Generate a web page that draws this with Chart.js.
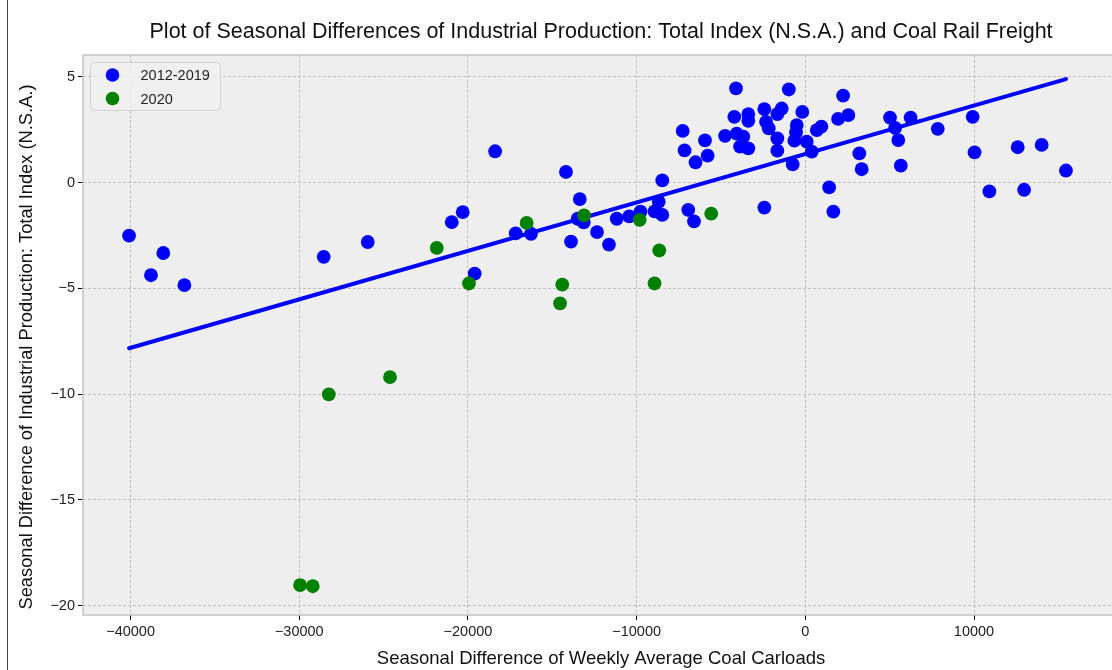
<!DOCTYPE html>
<html>
<head>
<meta charset="utf-8">
<script src="https://cdn.jsdelivr.net/npm/chart.js@4"></script>
<style>
    html, body { margin: 0; padding: 0; background: #fff; overflow: hidden; }
    #wrap { width: 1112px; height: 670px; overflow: hidden; }
</style>
</head>
<body>
<!-- the original axes run a little past the right edge of the picture, so the canvas is wider than the window -->
<div id="wrap"><canvas id="coalChart" width="1126" height="670"></canvas></div>
<script>
// seasonal difference of weekly average coal carloads (x) vs industrial production (y)
const blueX = [-40090, -38790, -38060, -36810, -28550, -25940, -20960, -20310, -19600, -18390,
    -17170, -16260, -14190, -13890, -13370, -13490, -13140, -12350, -11640, -11180,
    -10440, -9770, -8940, -8480, -8690, -8480, -6940, -6600, -7160, -6510,
    -5790, -5950, -7270, -4110, -980, -4210, -3380, -3380, -2430, -2330,
    -2170, -1400, -1660, -180, -4760, -4070, -3680, -3870, -3380, -1660,
    -1660, -510, -550, -650, 80, 380, -750, 680, 950, 2240,
    1940, 2550, 5020, 6240, 5320, 5510, 7850, 3200, 3340, 5660,
    9920, 10030, 12590, 14010, 15450, 10910, 12970, 1410, 1660, -2430];
const blueY = [-2.51, -4.38, -3.33, -4.85, -3.51, -2.81, -1.87, -1.40, -4.30, 1.48,
    -2.40, -2.42, 0.50, -2.79, -0.78, -1.71, -1.88, -2.34, -2.93, -1.71,
    -1.60, -1.37, -1.36, -1.53, -0.91, 0.10, -1.29, -1.83, 1.52, 0.96,
    1.27, 1.99, 2.44, 4.45, 4.40, 3.11, 3.24, 2.92, 3.47, 2.87,
    2.56, 3.50, 3.24, 3.34, 2.21, 2.31, 2.17, 1.70, 1.62, 2.09,
    1.51, 2.72, 2.37, 1.98, 1.93, 1.46, 0.86, 2.48, 2.64, 4.11,
    3.01, 3.19, 3.07, 3.07, 2.58, 2.01, 2.54, 1.38, 0.63, 0.80,
    3.11, 1.43, 1.67, 1.78, 0.57, -0.42, -0.34, -0.23, -1.37, -1.18];

// 2020
const greenX = [-29950, -29200, -28250, -24620, -21850, -19940, -16520, -14410, -14540, -13120, -9820, -8660, -8940, -5580];
const greenY = [-19.03, -19.08, -10.01, -9.20, -3.09, -4.77, -1.91, -4.82, -5.71, -1.55, -1.76, -3.21, -4.77, -1.47];

// fitted line end points
const fitX = [-40090, 15450];
const fitY = [-7.83, 4.89];

const xTicks = [-40000, -30000, -20000, -10000, 0, 10000];
const yTicks = [-20, -15, -10, -5, 0, 5];

const FONT = "'Liberation Sans', Arial, Helvetica, sans-serif";
const Y_TITLE = 'Seasonal Difference of Industrial Production: Total Index (N.S.A.)';
const minus = v => String(v).replace('-', '\u2212');
const toPoints = (xs, ys) => xs.map((x, i) => ({ x: x, y: ys[i] }));

// gray plot background + frame + y label
const plotFrame = {
    id: 'plotFrame',
    beforeDraw(chart) {
        const { ctx, chartArea: a } = chart;
        ctx.save();
        ctx.fillStyle = '#eeeeee';
        ctx.fillRect(a.left, a.top, a.right - a.left, a.bottom - a.top);
        ctx.restore();
    },
    afterDraw(chart) {
        const { ctx, chartArea: a } = chart;
        ctx.save();
        ctx.strokeStyle = '#c4c4c4';
        ctx.lineWidth = 1.5;
        ctx.strokeRect(a.left, a.top, a.right - a.left, a.bottom - a.top);
        // outer figure edge on the left
        ctx.fillStyle = '#444';
        ctx.fillRect(7, 0, 1, chart.height);
        // y axis label
        ctx.translate(27, 347);
        ctx.rotate(-Math.PI / 2);
        ctx.font = '18.3px ' + FONT;
        ctx.fillStyle = '#111';
        ctx.textAlign = 'center';
        ctx.textBaseline = 'middle';
        ctx.fillText(Y_TITLE, 0, 0);
        ctx.restore();
    }
};

// legend drawn inside upper left of the plot
const insideLegend = {
    id: 'insideLegend',
    afterDraw(chart) {
        const { ctx, chartArea: a } = chart;
        const sets = chart.data.datasets.filter(d => d.inLegend);
        const x0 = a.left + 7.5, y0 = a.top + 7.5, w = 130, h = 48;
        ctx.save();
        ctx.beginPath();
        ctx.roundRect(x0, y0, w, h, 4);
        ctx.fillStyle = 'rgba(240,240,240,0.85)';
        ctx.fill();
        ctx.strokeStyle = '#d2d2d2';
        ctx.lineWidth = 1;
        ctx.stroke();
        ctx.font = '14.5px ' + FONT;
        ctx.textBaseline = 'middle';
        sets.forEach((d, i) => {
            const cy = y0 + 12.5 + i * 23.5;
            ctx.beginPath();
            ctx.arc(x0 + 22, cy, 6.8, 0, Math.PI * 2);
            ctx.fillStyle = d.backgroundColor;
            ctx.fill();
            ctx.fillStyle = '#222';
            ctx.fillText(d.label, x0 + 50, cy + 1);
        });
        ctx.restore();
    }
};

const ctx = document.getElementById('coalChart').getContext('2d');
new Chart(ctx, {
    type: 'scatter',
    data: {
        datasets: [
            {
                label: '2012-2019',
                inLegend: true,
                data: toPoints(blueX, blueY),
                backgroundColor: '#0000ff',
                borderColor: '#0000ff',
                pointRadius: 6.9,
                pointBorderWidth: 0,
                order: 3
            },
            {
                label: 'fit',
                data: toPoints(fitX, fitY),
                showLine: true,
                borderColor: '#0000ff',
                backgroundColor: '#0000ff',
                borderWidth: 4,
                borderCapStyle: 'round',
                pointRadius: 0,
                order: 2
            },
            {
                label: '2020',
                inLegend: true,
                data: toPoints(greenX, greenY),
                backgroundColor: '#008000',
                borderColor: '#008000',
                pointRadius: 6.9,
                pointBorderWidth: 0,
                order: 1
            }
        ]
    },
    options: {
        responsive: false,
        animation: false,
        layout: { padding: 0 },
        plugins: {
            legend: { display: false },
            tooltip: { enabled: false },
            title: {
                display: true,
                fullSize: false,
                text: 'Plot of Seasonal Differences of Industrial Production: Total Index (N.S.A.) and Coal Rail Freight',
                color: '#111',
                font: { family: FONT, size: 21.5, weight: 'normal' },
                padding: { top: 19, bottom: 10.2 }
            }
        },
        scales: {
            x: {
                type: 'linear',
                min: -42820,
                max: 18600,
                afterBuildTicks: s => { s.ticks = xTicks.map(v => ({ value: v })); },
                afterFit: s => { s.height = 55; },
                ticks: {
                    color: '#222',
                    padding: 3,
                    maxRotation: 0,
                    font: { family: FONT, size: 14.5 },
                    callback: v => minus(v)
                },
                grid: {
                    color: '#b2b2b2',
                    lineWidth: 0.8,
                    tickColor: '#000',
                    tickLength: 5,
                    tickWidth: 1
                },
                border: { display: false, dash: [3, 2] },
                title: {
                    display: true,
                    text: 'Seasonal Difference of Weekly Average Coal Carloads',
                    color: '#111',
                    font: { family: FONT, size: 18.5 },
                    padding: { top: 0, bottom: 0 }
                }
            },
            y: {
                type: 'linear',
                min: -20.44,
                max: 6.03,
                afterBuildTicks: s => { s.ticks = yTicks.map(v => ({ value: v })); },
                afterFit: s => { s.width = 83; },
                ticks: {
                    color: '#222',
                    padding: 3,
                    font: { family: FONT, size: 14.5 },
                    callback: v => minus(v)
                },
                grid: {
                    color: '#b2b2b2',
                    lineWidth: 0.8,
                    tickColor: '#000',
                    tickLength: 5,
                    tickWidth: 1
                },
                border: { display: false, dash: [3, 2] }
            }
        }
    },
    plugins: [plotFrame, insideLegend]
});
</script>
</body>
</html>
